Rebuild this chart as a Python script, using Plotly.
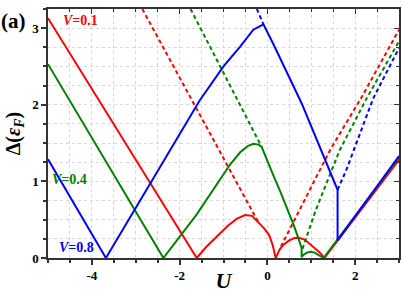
import plotly.graph_objects as go

# ---- data ----
# V = 0.1 (red)
red_solid_U = [-5.0, -1.61, -1.4, -1.16, -0.9, -0.7, -0.51, -0.35, -0.21, -0.08, 0.04, 0.12, 0.19,
               0.28, 0.36, 0.5, 0.62, 0.72, 0.85, 1.04, 1.18, 1.30, 3.0]
red_solid_D = [3.13, 0.0, 0.14, 0.27, 0.42, 0.51, 0.56, 0.55, 0.47, 0.39, 0.30, 0.17, 0.0,
               0.11, 0.17, 0.23, 0.26, 0.265, 0.24, 0.15, 0.08, 0.0, 1.28]
red_dash1_U = [-2.85, -0.21]
red_dash1_D = [3.25, 0.47]
red_dash2_U = [0.31, 1.43, 2.15, 3.0]
red_dash2_D = [0.15, 1.41, 2.10, 2.98]

# V = 0.4 (green)
green_solid_U = [-5.0, -2.37, -1.61, -0.85, -0.62, -0.45, -0.32, -0.2, -0.13, 0.0, 0.15, 0.3, 0.45,
                 0.6, 0.7, 0.78, 0.78, 0.82, 0.9, 0.98, 1.08, 1.18, 1.28, 3.0]
green_solid_D = [2.53, 0.0, 0.57, 1.22, 1.38, 1.46, 1.49, 1.48, 1.45, 1.28, 1.06, 0.86, 0.65,
                 0.43, 0.27, 0.13, 0.01, 0.04, 0.07, 0.08, 0.07, 0.04, 0.0, 1.31]
green_dash1_U = [-1.75, -0.13]
green_dash1_D = [3.25, 1.45]
green_dash2_U = [0.80, 1.1, 1.47, 1.65, 2.26, 3.0]
green_dash2_D = [0.12, 0.62, 1.15, 1.41, 2.08, 2.83]

# V = 0.8 (blue)
blue_solid_U = [-5.0, -3.68, -1.54, -1.0, -0.62, -0.32, -0.09, 0.13, 0.78, 1.6, 1.6, 3.0]
blue_solid_D = [1.29, 0.0, 2.06, 2.50, 2.76, 2.98, 3.05, 2.80, 2.02, 0.89, 0.23, 1.33]
blue_dash1_U = [-0.24, -0.09]
blue_dash1_D = [3.25, 3.05]
blue_dash2_U = [1.6, 1.8, 2.41, 3.0]
blue_dash2_D = [0.89, 1.15, 2.08, 2.74]

series = [
    ("red", red_solid_U, red_solid_D, [(red_dash1_U, red_dash1_D), (red_dash2_U, red_dash2_D)]),
    ("#008000", green_solid_U, green_solid_D, [(green_dash1_U, green_dash1_D), (green_dash2_U, green_dash2_D)]),
    ("blue", blue_solid_U, blue_solid_D, [(blue_dash1_U, blue_dash1_D), (blue_dash2_U, blue_dash2_D)]),
]

x_ticks = [-4, -2, 0, 2]
y_ticks = [0, 1, 2, 3]

fig = go.Figure()
for color, su, sd, dashes in series:
    for du, dd in dashes:
        fig.add_trace(go.Scatter(x=du, y=dd, mode="lines",
                                 line=dict(color=color, width=2, dash="4px,3px"),
                                 showlegend=False, hoverinfo="skip"))
    fig.add_trace(go.Scatter(x=su, y=sd, mode="lines",
                             line=dict(color=color, width=2),
                             showlegend=False, hoverinfo="skip"))

# invisible trace for mirrored axes
fig.add_trace(go.Scatter(x=[-5], y=[0], xaxis="x2", yaxis="y2", mode="markers",
                         marker=dict(opacity=0), showlegend=False, hoverinfo="skip"))

serif = "Liberation Serif"
axis_common = dict(showline=True, linecolor="#333", linewidth=1.5, zeroline=False,
                   automargin=False,
                   tickfont=dict(family=serif, size=13, color="black"),
                   gridcolor="#d9d9d9", griddash="dot", gridwidth=1)

fig.update_layout(
    width=403, height=293,
    margin=dict(l=48, r=4, t=9, b=35, autoexpand=False),
    plot_bgcolor="white", paper_bgcolor="white",
    xaxis=dict(range=[-5, 3], tickvals=x_ticks, ticktext=[f"<b>{v}</b>" for v in x_ticks],
               ticks="outside", ticklen=5, tickcolor="#333", tickwidth=1.5,
               minor=dict(dtick=0.5, tick0=0, ticks="outside", ticklen=3, tickcolor="#333",
                          showgrid=True, gridcolor="#d9d9d9", griddash="dot"),
               title=dict(text="<b><i>U</i></b>", font=dict(family=serif, size=22, color="black"),
                          standoff=3),
               **axis_common),
    yaxis=dict(range=[0, 3.25], tickvals=y_ticks, ticktext=[f"<b>{v}</b>" for v in y_ticks],
               ticks="outside", ticklen=5, tickcolor="#333", tickwidth=1.5,
               minor=dict(dtick=0.25, tick0=0, ticks="outside", ticklen=3, tickcolor="#333",
                          showgrid=True, gridcolor="#d9d9d9", griddash="dot"),
               title=dict(text="<b>Δ(<i>ε</i><sub><i>F</i></sub>)</b>",
                          font=dict(family=serif, size=20, color="black"), standoff=6),
               **axis_common),
    xaxis2=dict(range=[-5, 3], overlaying="x", side="top", showline=True, linecolor="#333",
                linewidth=1.5, tickvals=x_ticks, showticklabels=False, ticks="inside",
                ticklen=5, tickcolor="#333", showgrid=False, zeroline=False, automargin=False,
                minor=dict(dtick=0.5, tick0=0, ticks="inside", ticklen=3, tickcolor="#333")),
    yaxis2=dict(range=[0, 3.25], overlaying="y", side="right", showline=True, linecolor="#333",
                linewidth=1.5, tickvals=y_ticks, showticklabels=False, ticks="inside",
                ticklen=5, tickcolor="#333", showgrid=False, zeroline=False, automargin=False,
                minor=dict(dtick=0.25, tick0=0, ticks="inside", ticklen=3, tickcolor="#333")),
    annotations=[
        dict(text="<b>(a)</b>", xref="paper", yref="paper", x=-0.135, y=1.0, xanchor="left",
             yanchor="top", showarrow=False, font=dict(family=serif, size=21, color="black"),
             xshift=-2, yshift=2),
        dict(text="<b><i>V</i>=0.1</b>", x=-4.7, y=3.1, xanchor="left", yanchor="middle",
             showarrow=False, font=dict(family=serif, size=14, color="red")),
        dict(text="<b><i>V</i>=0.4</b>", x=-4.95, y=1.03, xanchor="left", yanchor="middle",
             showarrow=False, font=dict(family=serif, size=14, color="#008000")),
        dict(text="<b><i>V</i>=0.8</b>", x=-4.8, y=0.14, xanchor="left", yanchor="middle",
             showarrow=False, font=dict(family=serif, size=14, color="blue")),
    ],
)

fig.write_html("out.html", config={"displayModeBar": False},
               post_script="document.body.style.margin='0';document.body.style.padding='0';")
